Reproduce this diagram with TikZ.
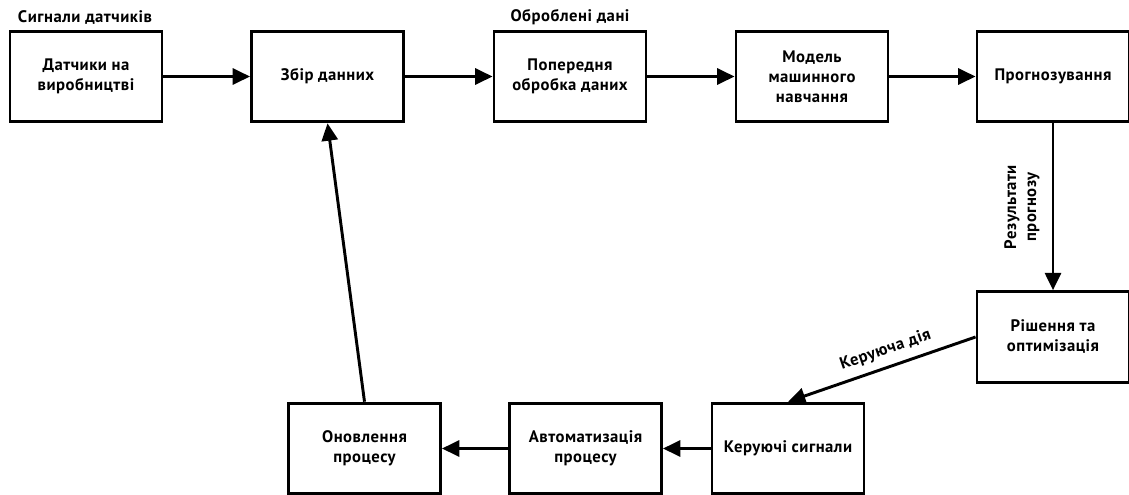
\documentclass[tikz,border=0pt]{standalone}
\usepackage{fontspec}
\setmainfont[LetterSpace=3]{PT Sans}
\usetikzlibrary{arrows.meta}
\begin{document}
\begin{tikzpicture}[x=0.75pt,y=-0.75pt,
  txt/.style={align=center,font=\fontsize{12.5}{15}\selectfont\bfseries},
  blk/.style={txt,draw,line width=2.2pt,minimum width=114pt,minimum height=68pt,inner sep=0pt},
  lbl/.style={txt,inner sep=0pt},
  arr/.style={line width=2.2pt,-{Triangle[length=13pt,width=12pt]}}]
\useasboundingbox (0,0) rectangle (1129,494);
\node[blk] (b1) at (86,76.5) {Датчики на\\виробництві};
\node[blk] (b2) at (327.5,76.5) {Збір данних};
\node[blk] (b3) at (570,76.5) {Попередня\\обробка даних};
\node[blk] (b4) at (812,76.5) {Модель\\машинного\\навчання};
\node[blk] (b5) at (1053,76.5) {Прогнозування};
\node[blk] (b6) at (1053,337) {Рішення та\\оптимізація};
\node[blk] (b7) at (364.5,448.5) {Оновлення\\процесу};
\node[blk] (b8) at (585.5,448.5) {Автоматизація\\процесу};
\node[blk] (b9) at (788,448.5) {Керуючі сигнали};
\node[lbl] (l1) at (85,17) {Сигнали датчиків};
\node[lbl] (l2) at (570,17) {Оброблені дані};
\node[lbl,rotate=90] (l3) at (1022,207) {Результати\\прогнозу};
\draw[arr] (b1) -- (b2);
\draw[arr] (b2) -- (b3);
\draw[arr] (b3) -- (b4);
\draw[arr] (b4) -- (b5);
\draw[arr] (b5) -- (b6);
\draw[arr] (b6.west) -- node[lbl,sloped,above=6pt,pos=0.45] (l4) {Керуюча дія} (b9.north);
\draw[arr] (b9) -- (b8);
\draw[arr] (b8) -- (b7);
\draw[arr] (b7.north) -- (b2.south);
\end{tikzpicture}
\end{document}
